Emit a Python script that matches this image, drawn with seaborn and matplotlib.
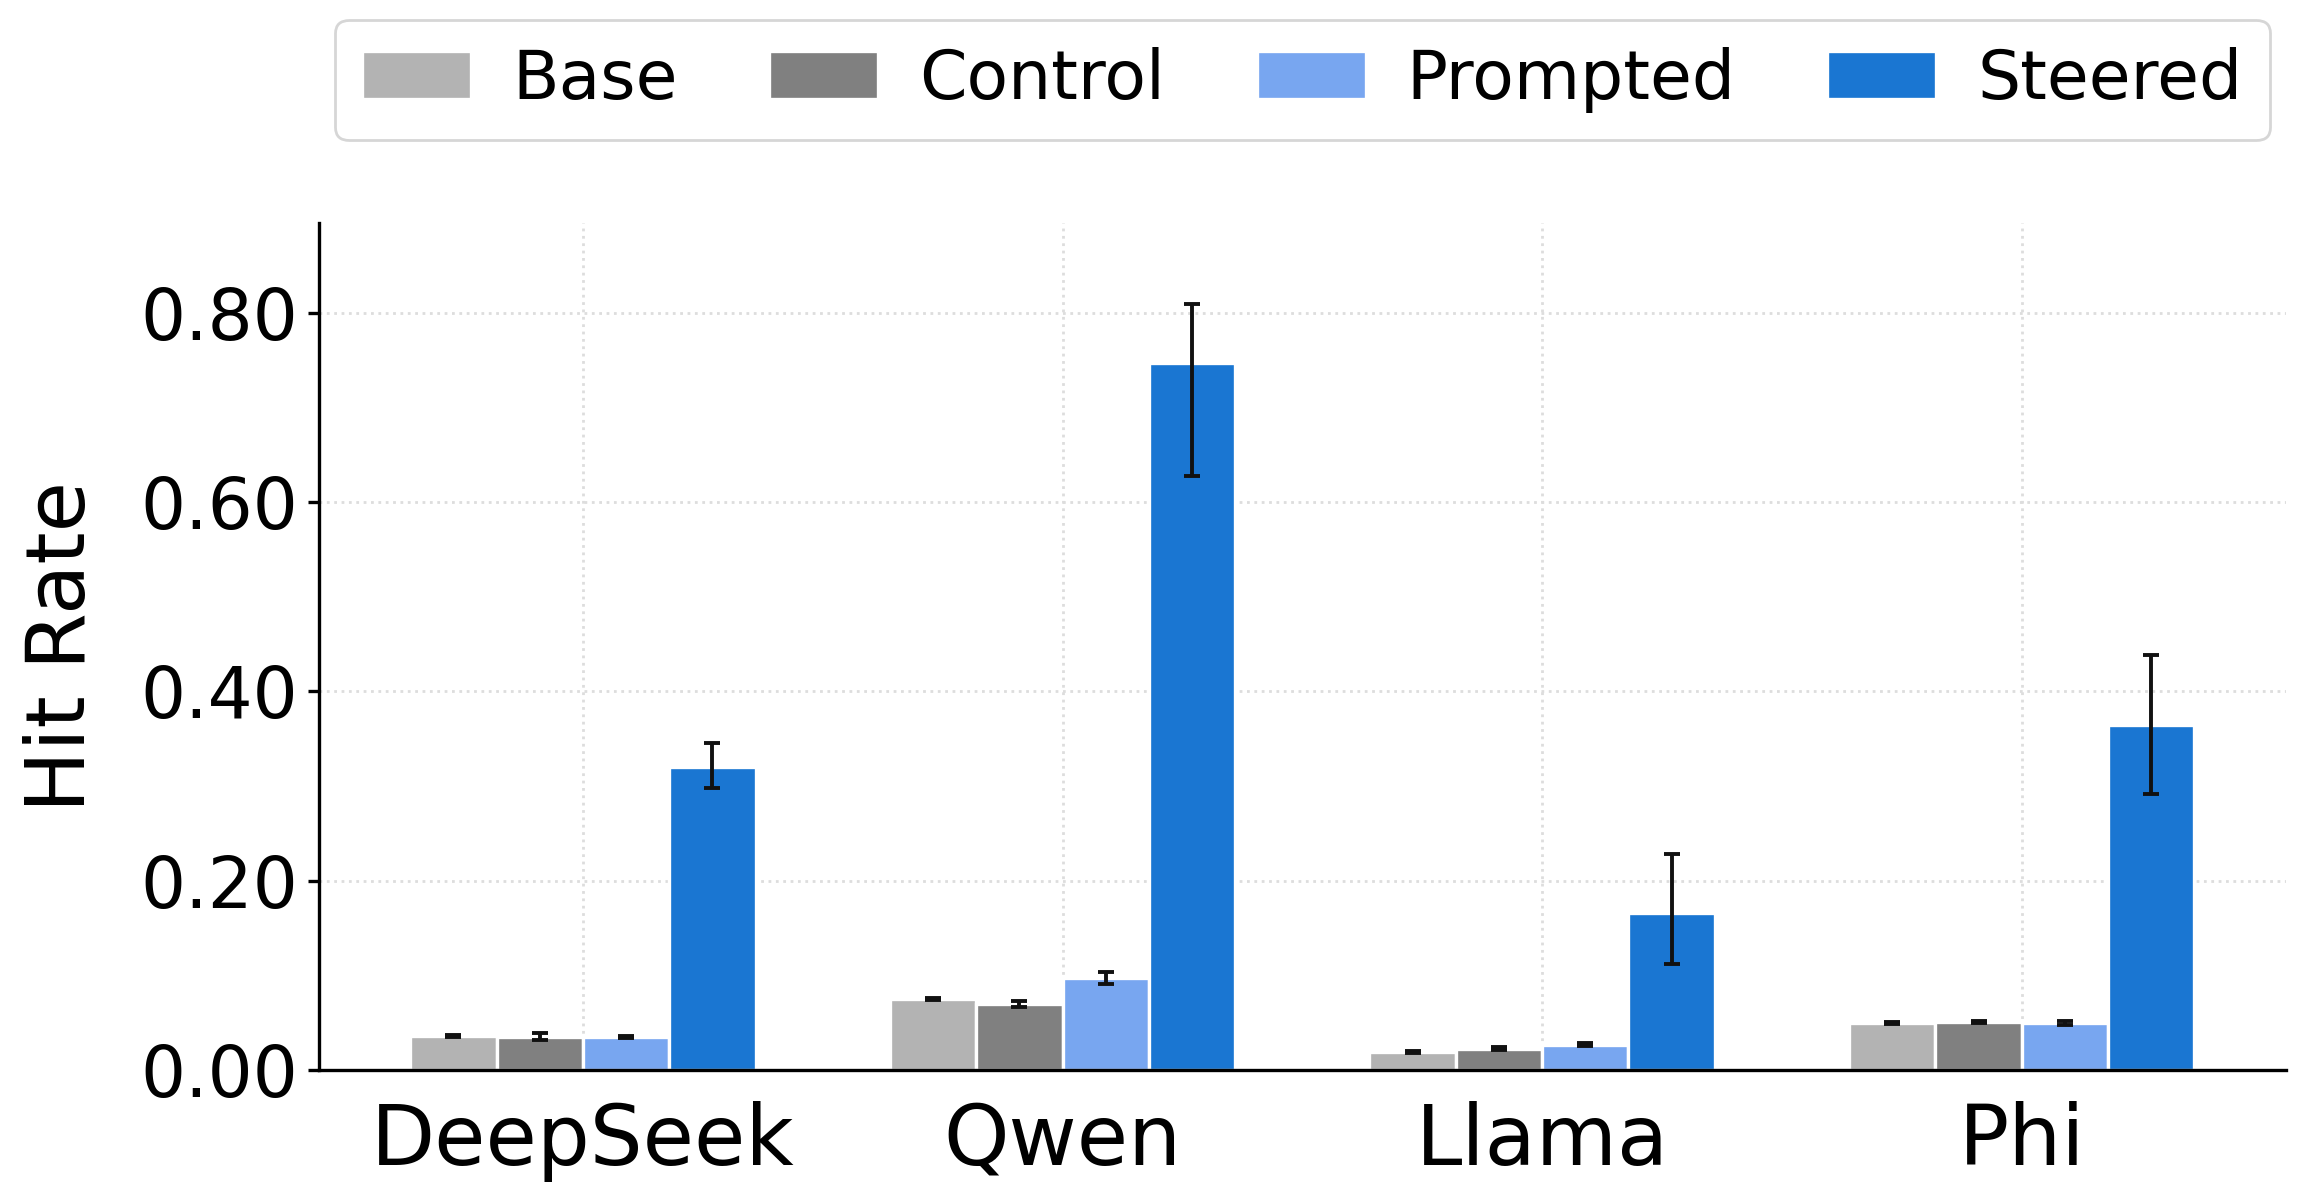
import numpy as np
import pandas as pd
import matplotlib
matplotlib.use("Agg")
import matplotlib.pyplot as plt
import seaborn as sns

# Data
models = ["DeepSeek", "Qwen", "Llama", "Phi"]
conditions = ["Base", "Control", "Prompted", "Steered"]

base = [0.036, 0.075, 0.019, 0.050]
control = [0.035, 0.070, 0.022, 0.051]
prompted = [0.035, 0.097, 0.026, 0.050]
steered = [0.320, 0.747, 0.166, 0.365]

# lower / upper ends of the error bars
base_lo = [0.035, 0.074, 0.018, 0.049]
base_hi = [0.037, 0.076, 0.020, 0.051]
control_lo = [0.032, 0.067, 0.021, 0.050]
control_hi = [0.039, 0.073, 0.024, 0.052]
prompted_lo = [0.034, 0.091, 0.025, 0.048]
prompted_hi = [0.036, 0.104, 0.028, 0.052]
steered_lo = [0.298, 0.628, 0.112, 0.292]
steered_hi = [0.345, 0.809, 0.228, 0.438]

colors = ["#b3b3b3", "#808080", "#78a6f0", "#1a76d2"]

# Build a long table
means = [base, control, prompted, steered]
lows = [base_lo, control_lo, prompted_lo, steered_lo]
highs = [base_hi, control_hi, prompted_hi, steered_hi]
rows = []
for c, m, lo, hi in zip(conditions, means, lows, highs):
    for mod, v, l, h in zip(models, m, lo, hi):
        rows.append({"model": mod, "condition": c, "rate": v, "lo": l, "hi": h})
data = pd.DataFrame(rows)

sns.set_style("white")
plt.rcParams["font.family"] = ["DejaVu Sans"]
plt.rcParams["text.color"] = "black"
plt.rcParams["axes.labelcolor"] = "black"
plt.rcParams["xtick.color"] = "black"
plt.rcParams["ytick.color"] = "black"

fig = plt.figure(figsize=(11.52, 6.02), dpi=200)
ax = fig.add_axes([0.1385, 0.1113, 0.8535, 0.7035])

sns.barplot(data=data, x="model", y="rate", hue="condition", order=models,
            hue_order=conditions, palette=dict(zip(conditions, colors)),
            saturation=1, errorbar=None, width=0.72, edgecolor="white",
            linewidth=1.2, ax=ax, zorder=2)

# Error bars on top of each bar
for patch_group, c in zip(ax.containers, conditions):
    sub = data[data["condition"] == c].set_index("model").loc[models]
    xs = [p.get_x() + p.get_width() / 2 for p in patch_group]
    yerr = np.array([sub["rate"] - sub["lo"], sub["hi"] - sub["rate"]])
    ax.errorbar(xs, sub["rate"], yerr=yerr, fmt="none", ecolor="#111111",
                elinewidth=1.4, capthick=1.4, capsize=3, zorder=3)

ax.set_xlim(-0.55, 3.55)
ax.set_ylim(0, 0.895)
ax.set_yticks([0, 0.2, 0.4, 0.6, 0.8])
ax.yaxis.set_major_formatter(matplotlib.ticker.FormatStrFormatter("%.2f"))
ax.tick_params(axis="y", labelsize=25.5, length=4, width=1.2, left=True)
ax.tick_params(axis="x", labelsize=30, length=0, pad=11)
ax.set_xlabel("")
ax.set_ylabel("Hit Rate", fontsize=29.5, labelpad=14)

ax.grid(True, axis="both", linestyle=":", color="#dddddd", linewidth=1.0, zorder=0)
ax.set_axisbelow(True)
sns.despine(ax=ax)
for s in ["left", "bottom"]:
    ax.spines[s].set_color("black")
    ax.spines[s].set_linewidth(1.2)

ax.legend(loc="upper center", bbox_to_anchor=(0.5, 1.24), ncol=4, fontsize=24.5,
          frameon=True, fancybox=True, edgecolor="#cccccc", borderaxespad=0,
          handlelength=1.6, handletextpad=0.6, columnspacing=1.35, title=None)

fig.savefig("out.png", dpi=200)
